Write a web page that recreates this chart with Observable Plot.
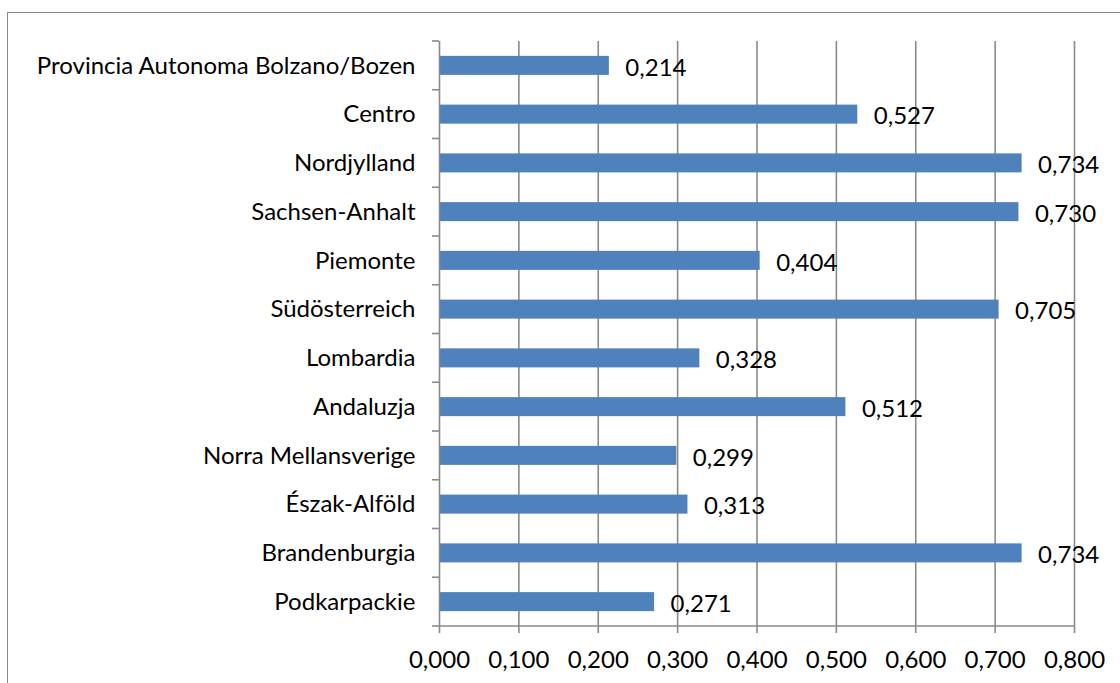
<!DOCTYPE html>
<html>
<head>
<meta charset="utf-8">
<script src="https://cdn.jsdelivr.net/npm/d3@7"></script>
<script src="https://cdn.jsdelivr.net/npm/@observablehq/plot@0.6"></script>
<style>
  html, body { margin: 0; padding: 0; background: #fff; overflow: hidden; }
  #wrap { position: relative; width: 1120px; height: 683px; }
  #frame { position: absolute; left: 7px; top: 12px; width: 1200px; height: 800px; border: 1px solid #8a8a8a; box-sizing: border-box; }
  #chart { position: absolute; left: 0; top: 0; }
</style>
</head>
<body>
<div id="wrap"><div id="frame"></div><div id="chart"></div></div>
<script>
const regions = ["Provincia Autonoma Bolzano/Bozen", "Centro", "Nordjylland", "Sachsen-Anhalt", "Piemonte", "Südösterreich", "Lombardia", "Andaluzja", "Norra Mellansverige", "Észak-Alföld", "Brandenburgia", "Podkarpackie"];
const values = [0.214, 0.527, 0.734, 0.730, 0.404, 0.705, 0.328, 0.512, 0.299, 0.313, 0.734, 0.271];
const xTicks = [0, 0.1, 0.2, 0.3, 0.4, 0.5, 0.6, 0.7, 0.8];

const data = regions.map((r, i) => ({region: r, value: values[i]}));
const fmt = v => d3.format(".3f")(v).replace(".", ",");
const FONT = "Lato, 'Open Sans', sans-serif";
const FS = 24;

const plot = Plot.plot({
  width: 1120,
  height: 683,
  marginLeft: 439,
  marginRight: 46,
  marginTop: 41,
  marginBottom: 57,
  style: {fontFamily: FONT, fontSize: FS + "px", color: "#000", background: "transparent", overflow: "visible"},
  x: {domain: [0, 0.8], ticks: xTicks, label: null},
  y: {domain: regions, padding: 0.61, paddingOuter: 0.305, round: false, label: null},
  marks: [
    Plot.gridX(xTicks.slice(1), {stroke: "#8a8a8a", strokeOpacity: 1, strokeWidth: 1.6}),
    Plot.barX(data, {x: "value", y: "region", fill: "#4f81bd"}),
    Plot.text(data, {x: "value", y: "region", text: d => fmt(d.value), textAnchor: "start", dx: 16, dy: 2, fill: "#000", fontSize: FS}),
    Plot.axisX({ticks: xTicks, tickFormat: fmt, tickSize: 7, tickPadding: 17, stroke: "#8a8a8a", strokeWidth: 1.6, fill: "#000", fontSize: FS, label: null}),
    Plot.ruleX([0], {stroke: "#8a8a8a", strokeWidth: 1.6}),
    Plot.axisY({tickSize: 0, tickPadding: 24, fill: "#000", fontSize: FS, label: null})
  ]
});

// category-boundary ticks and bottom axis line, positioned through the plot's own scales
const ys = plot.scale("y");
const yScale = d3.scaleBand().domain(ys.domain).range(ys.range)
  .paddingInner(ys.paddingInner ?? ys.padding).paddingOuter(ys.paddingOuter ?? ys.padding);
const xs = plot.scale("x");
const xScale = d3.scaleLinear().domain(xs.domain).range(xs.range);
const x0 = xScale(0);
const gap = (yScale.step() - yScale.bandwidth()) / 2;
const bounds = regions.map(r => yScale(r) - gap);
bounds.push(yScale(regions[regions.length - 1]) + yScale.bandwidth() + gap);
const svg = d3.select(plot);
const g = svg.append("g").attr("stroke", "#8a8a8a").attr("stroke-width", 1.6);
g.selectAll("line.tick").data(bounds).join("line").attr("class", "tick")
  .attr("x1", x0 - 7).attr("x2", x0).attr("y1", d => d).attr("y2", d => d);
const yb = bounds[bounds.length - 1];
g.append("line").attr("x1", x0).attr("x2", xScale(xs.domain[1])).attr("y1", yb).attr("y2", yb);

document.getElementById("chart").appendChild(plot);
</script>
</body>
</html>
